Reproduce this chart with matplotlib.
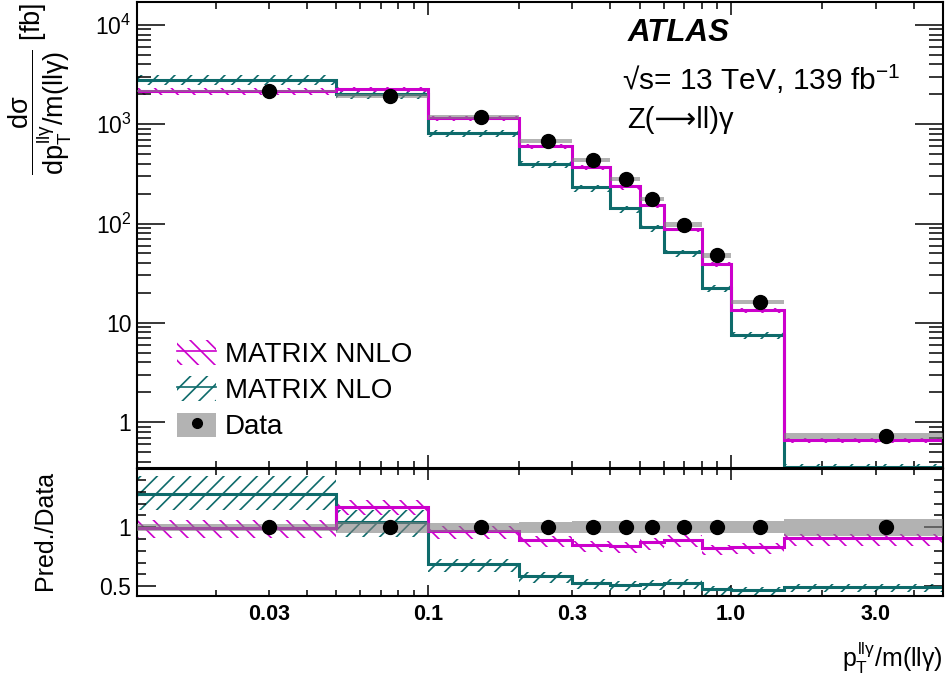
import numpy as np
import matplotlib
matplotlib.use('Agg')
import matplotlib.pyplot as plt
from matplotlib import ticker
from matplotlib.patches import Patch
from matplotlib.lines import Line2D
from matplotlib.legend_handler import HandlerTuple

plt.rcParams['font.family'] = ['Liberation Sans', 'DejaVu Sans']
plt.rcParams['mathtext.fontset'] = 'custom'
plt.rcParams['mathtext.rm'] = 'Liberation Sans'
plt.rcParams['mathtext.it'] = 'Liberation Sans'
plt.rcParams['mathtext.bf'] = 'Liberation Sans:bold'
plt.rcParams['hatch.linewidth'] = 1.2

# bins in pT(llg)/m(llg)
edges = np.array([0.01, 0.05, 0.1, 0.2, 0.3, 0.4, 0.5, 0.6, 0.8, 1.0, 1.5, 5.0])

# measured cross section [fb] and relative uncertainty
data = np.array([2171, 1934, 1189, 683, 437, 281, 177, 97.7, 47.7, 16.2, 0.729])
data_err = np.array([0.03, 0.045, 0.04, 0.047, 0.05, 0.05, 0.05, 0.05, 0.05, 0.05, 0.074])

# MATRIX predictions [fb] with relative scale uncertainties
nnlo = np.array([2149, 2270, 1153, 608, 371, 236, 154, 87.4, 39.1, 13.5, 0.663])
nnlo_up = np.array([0.07, 0.05, 0.04, 0.04, 0.04, 0.04, 0.04, 0.04, 0.04, 0.04, 0.04])
nnlo_dn = np.array([0.08, 0.06, 0.07, 0.07, 0.07, 0.07, 0.07, 0.07, 0.07, 0.07, 0.08])
nlo = np.array([2790, 2021, 820, 400, 231, 143, 91.5, 51.6, 22.5, 7.55, 0.356])
nlo_up = np.array([0.12, 0.10, 0.06, 0.06, 0.06, 0.06, 0.06, 0.06, 0.06, 0.06, 0.06])
nlo_dn = np.array([0.11, 0.12, 0.10, 0.10, 0.10, 0.10, 0.10, 0.10, 0.10, 0.10, 0.08])

xtick_vals = [0.03, 0.1, 0.3, 1.0, 3.0]
xtick_labels = ['0.03', '0.1', '0.3', '1.0', '3.0']
ytick_vals = [1, 10, 100, 1000, 10000]
ytick_labels = ['1', '10', '$10^{2}$', '$10^{3}$', '$10^{4}$']
rtick_vals = [0.5, 1.0]
rtick_labels = ['0.5', '1']

c_nnlo = '#cc00cc'
c_nlo = '#0e6b6b'
c_band = '#808080'

centers = 0.5 * (edges[:-1] + edges[1:])

fig = plt.figure(figsize=(9.47, 6.78), dpi=100)
ax = fig.add_axes([0.1447, 0.3097, 0.8511, 0.6873])
rax = fig.add_axes([0.1447, 0.1209, 0.8511, 0.1874])


def draw(a, scale):
    # scale: array to divide by (1 for the top panel, data for the ratio)
    a.stairs(nlo * (1 + nlo_up) / scale, edges, baseline=nlo * (1 - nlo_dn) / scale,
             fill=True, facecolor='none', edgecolor=c_nlo, hatch='//', lw=0, zorder=1)
    a.stairs(nnlo * (1 + nnlo_up) / scale, edges, baseline=nnlo * (1 - nnlo_dn) / scale,
             fill=True, facecolor='none', edgecolor=c_nnlo, hatch='\\\\', lw=0, zorder=1)
    a.stairs(nlo / scale, edges, color=c_nlo, lw=2.2, zorder=2, baseline=None)
    a.stairs(nnlo / scale, edges, color=c_nnlo, lw=2.2, zorder=2, baseline=None)
    a.stairs(data * (1 + data_err) / scale, edges, baseline=data * (1 - data_err) / scale,
             fill=True, color=c_band, alpha=0.6, lw=0, zorder=3)
    a.plot(centers, data / scale, 'o', color='black', ms=10, zorder=4)


draw(ax, 1.0)
draw(rax, data)

for a in (ax, rax):
    a.set_xscale('log')
    a.set_xlim(0.011, 5.0)
    for s in a.spines.values():
        s.set_linewidth(1.5)
    a.xaxis.set_major_locator(ticker.LogLocator(base=10))
    a.xaxis.set_minor_locator(ticker.LogLocator(base=10, subs=np.arange(2, 10)))

# top panel
ax.set_yscale('log')
ax.set_ylim(0.345, 1.7e4)
ax.yaxis.set_major_locator(ticker.FixedLocator(ytick_vals))
ax.yaxis.set_major_formatter(ticker.FixedFormatter(ytick_labels))
ax.yaxis.set_minor_locator(ticker.LogLocator(base=10, subs=np.arange(2, 10)))
ax.yaxis.set_minor_formatter(ticker.NullFormatter())
ax.xaxis.set_major_formatter(ticker.NullFormatter())
ax.xaxis.set_minor_formatter(ticker.NullFormatter())
ax.tick_params(axis='both', which='both', direction='in', top=True, right=True, width=1.1)
ax.tick_params(axis='y', which='major', length=20, labelsize=16.5, pad=4)
ax.tick_params(axis='y', which='minor', length=10)
ax.tick_params(axis='x', which='major', length=9.5)
ax.tick_params(axis='x', which='minor', length=5)

# ratio panel
rax.set_ylim(0.415, 1.495)
rax.yaxis.set_major_locator(ticker.FixedLocator(rtick_vals))
rax.yaxis.set_major_formatter(ticker.FixedFormatter(rtick_labels))
rax.yaxis.set_minor_locator(ticker.MultipleLocator(0.1))


def xfmt(v, pos):
    for tv, tl in zip(xtick_vals, xtick_labels):
        if abs(v - tv) < 1e-6 * tv:
            return tl
    return ''


rax.xaxis.set_major_formatter(ticker.FuncFormatter(xfmt))
rax.xaxis.set_minor_formatter(ticker.FuncFormatter(xfmt))
rax.tick_params(axis='both', which='both', direction='in', top=True, right=True, width=1.1)
rax.tick_params(axis='y', which='major', length=13.5, labelsize=16.5, pad=4)
rax.tick_params(axis='y', which='minor', length=6.5)
rax.tick_params(axis='x', which='major', length=8, labelsize=15.5, pad=6)
rax.tick_params(axis='x', which='minor', length=4.5, labelsize=15.5, pad=6)
for lab in rax.xaxis.get_majorticklabels() + rax.xaxis.get_minorticklabels():
    lab.set_fontweight('bold')

# labels
fig.text(0.043, 0.997,
         r'$\dfrac{d\sigma}{dp_{T}^{ll\gamma}/m(ll\gamma)}$ [fb]',
         rotation=90, ha='center', va='top', fontsize=19.5)
fig.text(0.047, 1 - 530 / 678, 'Pred./Data', rotation=90, ha='center', va='center', fontsize=18)
fig.text(0.9958, 1 - 676 / 678, r'$p_{T}^{ll\gamma}$/m(ll$\gamma$)',
         ha='right', va='bottom', fontsize=18)

ax.text(0.609, 0.916, 'ATLAS', transform=ax.transAxes, fontsize=22.5,
        fontweight='bold', fontstyle='italic', va='baseline')
ax.text(0.602, 0.811, '\u221as= 13 TeV, 139 fb$^{-1}$', transform=ax.transAxes,
        fontsize=21.5, va='baseline')
ax.text(0.608, 0.730, 'Z(\u27f6ll)\u03b3', transform=ax.transAxes, fontsize=21, va='baseline')

# legend
h_nnlo = (Patch(facecolor='none', edgecolor=c_nnlo, hatch='\\\\', lw=0),
          Line2D([], [], color=c_nnlo, lw=1.2))
h_nlo = (Patch(facecolor='none', edgecolor=c_nlo, hatch='//', lw=0),
         Line2D([], [], color=c_nlo, lw=1.2))
h_data = (Patch(facecolor='#b3b3b3', edgecolor='none'),
          Line2D([], [], ls='none', marker='o', color='black', ms=7))
ax.legend([h_nnlo, h_nlo, h_data], ['MATRIX NNLO', 'MATRIX NLO', 'Data'],
          handler_map={tuple: HandlerTuple(ndivide=1, pad=0)},
          loc='center left', bbox_to_anchor=(0.05, 0.167), frameon=False,
          fontsize=20, handlelength=1.4, handleheight=1.0, handletextpad=0.3,
          labelspacing=0.3, borderpad=0, borderaxespad=0)

fig.savefig('out.png', dpi=100)
